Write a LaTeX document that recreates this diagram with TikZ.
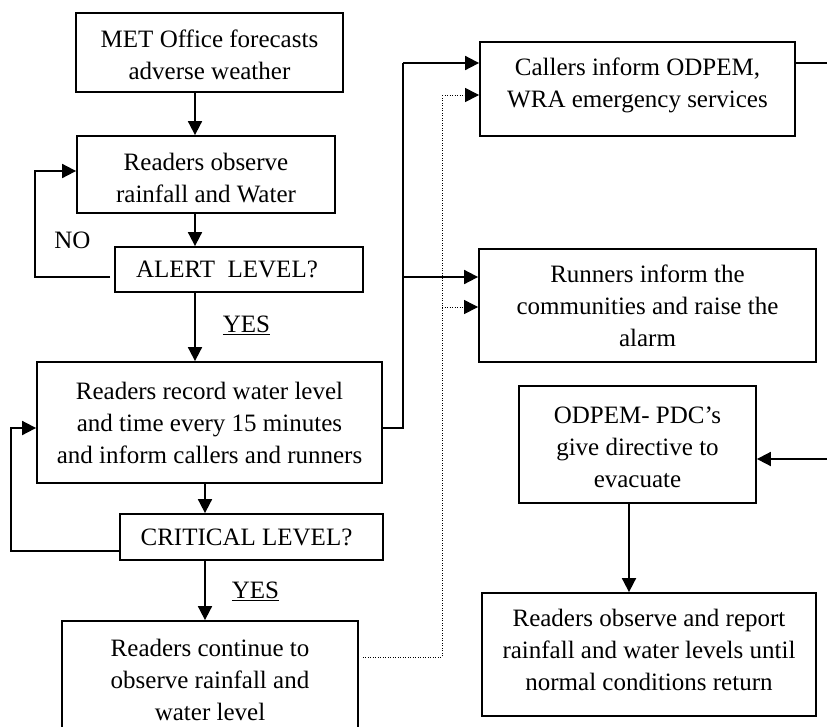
\documentclass[tikz,border=0pt]{standalone}
\usepackage{fontspec}
\setmainfont{Liberation Serif}
\usetikzlibrary{arrows.meta,calc}
\begin{document}
\begin{tikzpicture}[x=1pt,y=-1pt,
  box/.style={draw, line width=1.8pt, rectangle, align=center, inner sep=0pt,
              font=\fontsize{25}{32}\selectfont},
  lbl/.style={font=\fontsize{25}{32}\selectfont, inner sep=0pt},
  plain/.style={line width=1.8pt},
  flow/.style={plain, -{Triangle[length=14pt,width=14pt]}},
  dots/.style={line width=1pt, dash pattern=on 1pt off 1.5pt},
  dotflow/.style={dots, -{Triangle[length=14pt,width=14pt]}}]
\useasboundingbox (0,0) rectangle (827,726);
\clip (0,0) rectangle (827,726);

% ---- left column ----
\node[box, minimum width=267pt, minimum height=79pt] (met) at (209.5,52.5)
  {\mbox{}\\[-9pt]MET Office forecasts\\adverse weather};
\node[box, minimum width=258pt, minimum height=77pt] (obs) at (206,174.5)
  {\mbox{}\\[-7pt]Readers observe\\rainfall and Water};
\node[box, minimum width=248pt, minimum height=45pt] (alert) at (239,269.5)
  {ALERT\ \ LEVEL?\hspace{24pt}};
\node[box, minimum width=345pt, minimum height=121pt] (rec) at (209.5,422.5)
  {Readers record water level\\and time every 15 minutes\\and inform callers and runners};
\node[box, minimum width=263pt, minimum height=46pt] (crit) at (251.5,537)
  {CRITICAL LEVEL?\hspace{10pt}};
\node[box, minimum width=296pt, minimum height=118pt] (cont) at (210,680)
  {Readers continue to\\observe rainfall and\\water level};

% ---- right column ----
\node[box, minimum width=315pt, minimum height=94pt] (callers) at (637.5,89)
  {Callers inform ODPEM,\\WRA emergency services\\[-20pt]\mbox{}};
\node[box, minimum width=337pt, minimum height=113pt] (runners) at (647.5,305.5)
  {Runners inform the\\communities and raise the\\alarm};
\node[box, minimum width=237pt, minimum height=117pt] (odpem) at (637.5,444.5)
  {\mbox{}\\[-9pt]ODPEM- PDC’s\\give directive to\\evacuate};
\node[box, minimum width=334pt, minimum height=123pt] (final) at (649,654.5)
  {Readers observe and report\\rainfall and water levels until\\normal conditions return\\[-23pt]\mbox{}};

% ---- labels ----
\node[lbl] (no) at (72.5,240) {NO};
\node[lbl] (yes1) at (246.5,325) {\underline{YES}};
\node[lbl] (yes2) at (255.5,591) {\underline{YES}};

% ---- guide coordinates ----
\coordinate (c1) at (195,0);
\coordinate (c2) at (205,0);
\coordinate (c3) at (629,0);
\coordinate (busTop) at (403,63);
\coordinate (busMid) at (403,277);
\coordinate (dotTop) at (442,95);
\coordinate (dotMid) at (442,307);
\coordinate (outTop) at (830,63);
\coordinate (inOdpem) at (830,459);

% ---- main flow ----
\draw[flow] (met.south -| c1) -- (obs.north -| c1);
\draw[flow] (obs.south -| c1) -- (alert.north -| c1);
\draw[flow] (alert.south -| c1) -- (rec.north -| c1);
\draw[flow] (rec.south -| c2) -- (crit.north -| c2);
\draw[flow] (crit.south -| c2) -- (cont.north -| c2);
\draw[flow] (odpem.south -| c3) -- (final.north -| c3);

% ---- loops back ----
\draw[flow] ($(alert.west)+(-4,7.5)$) -- ++(-75,0) |- ($(obs.west)+(0,-3.5)$);
\draw[flow] ($(crit.west)+(0,14)$) -- ++(-108,0) |- ($(rec.west)+(0,5.5)$);

% ---- branch to callers and runners ----
\draw[plain] ($(rec.east)+(0,5.5)$) -| (busTop);
\draw[flow] (busTop) -- (callers.west |- busTop);
\draw[flow] (busMid) -- (runners.west |- busMid);

% ---- dotted branch ----
\draw[dots] ($(cont.east)+(4,-23)$) -| (dotTop);
\draw[dotflow] (dotTop) -- (callers.west |- dotTop);
\draw[dotflow] (dotMid) -- (runners.west |- dotMid);

% ---- links at the right edge ----
\draw[plain] (callers.east |- outTop) -- (outTop);
\draw[flow] (inOdpem) -- (odpem.east |- inOdpem);
\end{tikzpicture}
\end{document}
